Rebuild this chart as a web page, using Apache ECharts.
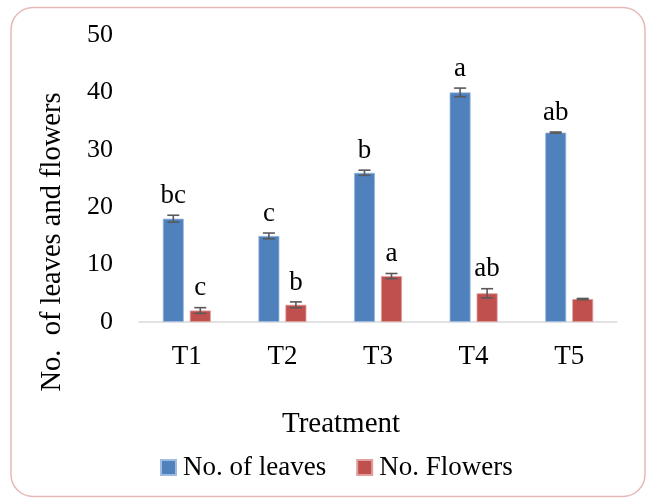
<!DOCTYPE html>
<html><head><meta charset="utf-8">
<script src="https://cdn.jsdelivr.net/npm/echarts@6/dist/echarts.min.js"></script>
<style>html,body{margin:0;padding:0;background:#fff}#c{width:647px;height:503px}</style>
</head><body><div id="c"></div>
<script>
const categories = ['T1','T2','T3','T4','T5'];
const leaves = [18, 15, 26, 40, 33];
const leavesErr = [0.6, 0.5, 0.45, 0.75, 0.1];
const leavesLetters = ['bc','c','b','a','ab'];
const flowers = [2, 3, 8, 5, 4];
const flowersErr = [0.5, 0.5, 0.45, 0.8, 0.1];
const flowersLetters = ['c','b','a','ab',''];
const yTicks = [0, 50, 10];

const FONT = 'Liberation Serif';
const BAR_W = 21, GAP = 6;
const OFF = (BAR_W + GAP) / 2;

function errSeries(vals, errs, letters, offset) {
  return {
    type: 'custom', z: 5, silent: true,
    data: vals.map((v, i) => [i, v, errs[i]]),
    renderItem: function (params, api) {
      const i = api.value(0), v = api.value(1), e = api.value(2);
      const t = api.coord([i, v + e]);
      const b = api.coord([i, v - e]);
      const x = t[0] + offset;
      const st = { stroke: '#595959', lineWidth: 1.6 };
      return {
        type: 'group',
        children: [
          { type: 'line', shape: { x1: x, y1: t[1], x2: x, y2: b[1] }, style: st },
          { type: 'line', shape: { x1: x - 6, y1: t[1], x2: x + 6, y2: t[1] }, style: st },
          { type: 'line', shape: { x1: x - 6, y1: b[1], x2: x + 6, y2: b[1] }, style: st },
          { type: 'text', x: x, y: t[1] - 6,
            style: { text: letters[params.dataIndex], fontFamily: FONT, fontSize: 27,
                     fill: '#000', align: 'center', verticalAlign: 'bottom' } }
        ]
      };
    }
  };
}

const chart = echarts.init(document.getElementById('c'), null, { renderer: 'canvas' });
chart.setOption({
  animation: false,
  backgroundColor: '#fff',
  grid: { left: 139, right: 30, top: 35, bottom: 181, containLabel: false },
  legend: {
    left: 160, top: 454, padding: 0, itemWidth: 15, itemHeight: 15, itemGap: 30,
    icon: 'rect',
    textStyle: { fontFamily: FONT, fontSize: 27, color: '#000', padding: [0, 0, 0, 2] },
    data: ['No. of leaves', 'No. Flowers']
  },
  xAxis: {
    type: 'category', data: categories,
    axisLine: { lineStyle: { color: '#d9d9d9', width: 1.5 } },
    axisTick: { show: false },
    axisLabel: { fontFamily: FONT, fontSize: 27, color: '#000', margin: 21 }
  },
  yAxis: {
    type: 'value', min: yTicks[0], max: yTicks[1], interval: yTicks[2],
    axisLine: { show: false }, axisTick: { show: false }, splitLine: { show: false },
    axisLabel: { fontFamily: FONT, fontSize: 26, color: '#000', margin: 26 }
  },
  graphic: [
    { type: 'rect', shape: { x: 11, y: 7.5, width: 634, height: 489, r: 22 },
      style: { fill: 'none', stroke: '#e6b9b8', lineWidth: 1.5 }, z: -1 },
    { type: 'text', x: 341, y: 424,
      style: { text: 'Treatment', fontFamily: FONT, fontSize: 29, fill: '#000', align: 'center', verticalAlign: 'middle' } },
    { type: 'text', x: 53, y: 242, rotation: Math.PI / 2,
      style: { text: 'No.  of leaves and flowers', fontFamily: FONT, fontSize: 28.5, fill: '#000', align: 'center', verticalAlign: 'middle' } }
  ],
  series: [
    { name: 'No. of leaves', type: 'bar', data: leaves, barWidth: BAR_W, barGap: (GAP / BAR_W * 100) + '%',
      itemStyle: { color: '#4f81bd', borderColor: '#9fbbe0', borderWidth: 0.8 } },
    { name: 'No. Flowers', type: 'bar', data: flowers, barWidth: BAR_W,
      itemStyle: { color: '#c0504d', borderColor: '#e0a09e', borderWidth: 0.8 } },
    errSeries(leaves, leavesErr, leavesLetters, -OFF),
    errSeries(flowers, flowersErr, flowersLetters, OFF)
  ]
});
</script></body></html>
